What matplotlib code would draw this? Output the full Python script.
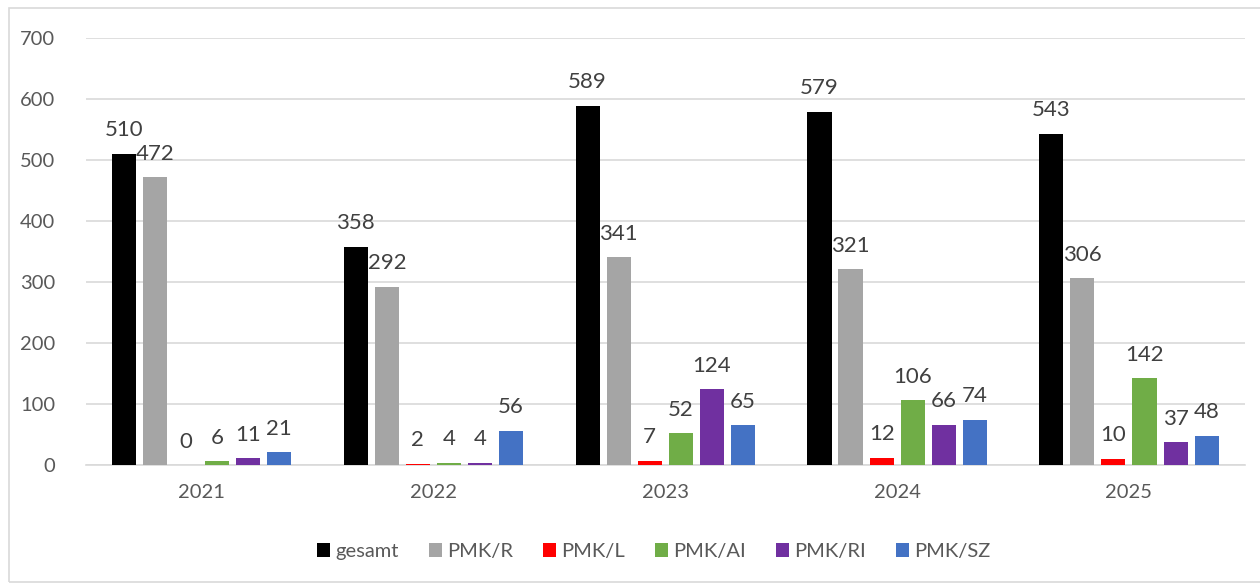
import numpy as np
import matplotlib.pyplot as plt
from matplotlib.patches import Rectangle

# Daten
jahre = ["2021", "2022", "2023", "2024", "2025"]
serien = ["gesamt", "PMK/R", "PMK/L", "PMK/AI", "PMK/RI", "PMK/SZ"]
gesamt = [510, 358, 589, 579, 543]
pmk_r = [472, 292, 341, 321, 306]
pmk_l = [0, 2, 7, 12, 10]
pmk_ai = [6, 4, 52, 106, 142]
pmk_ri = [11, 4, 124, 66, 37]
pmk_sz = [21, 56, 65, 74, 48]
werte = [gesamt, pmk_r, pmk_l, pmk_ai, pmk_ri, pmk_sz]
farben = ["#000000", "#a5a5a5", "#ff0000", "#70ad47", "#7030a0", "#4472c4"]

plt.rcParams['font.family'] = ['Lato', 'DejaVu Sans']
textfarbe = "#595959"

fig = plt.figure(figsize=(12.6, 5.83), dpi=100)
ax = fig.add_axes([0.068, 0.2024, 0.92, 0.7326])
fig.patches.append(Rectangle((9 / 1260, 0.002), 1.0, 1 - 8 / 583 - 0.002,
                             transform=fig.transFigure, fill=False,
                             edgecolor="#d9d9d9", linewidth=1.2))

x = np.arange(len(jahre))
breite = 0.104
abstand = 0.134
for i, (name, w, c) in enumerate(zip(serien, werte, farben)):
    pos = x + (i - 2.5) * abstand
    ax.bar(pos, w, width=breite, color=c, label=name, zorder=3)
    for xp, v in zip(pos, w):
        ax.text(xp, v + 22, str(v), ha="center", va="bottom",
                fontsize=16, color="#404040")

ax.set_xlim(-0.5, len(jahre) - 0.5)
ax.set_ylim(0, 700)
ax.set_yticks(range(0, 701, 100))
ax.set_xticks(x)
ax.set_xticklabels(jahre)
ax.grid(axis="y", color="#d9d9d9", linewidth=1.2, zorder=0)
for s in ["top", "right", "left"]:
    ax.spines[s].set_visible(False)
ax.spines["bottom"].set_color("#d9d9d9")
ax.spines["bottom"].set_linewidth(1.2)
ax.tick_params(axis="both", length=0, labelsize=14.5, colors=textfarbe)
ax.tick_params(axis="x", pad=14)
ax.tick_params(axis="y", pad=22)

ax.legend(loc="upper center", bbox_to_anchor=(0.49, -0.14), ncol=6,
          frameon=False, fontsize=14.5, handlelength=0.65, handleheight=0.65,
          handletextpad=0.25, columnspacing=1.5, labelcolor=textfarbe)

fig.savefig("out.png", dpi=100)
